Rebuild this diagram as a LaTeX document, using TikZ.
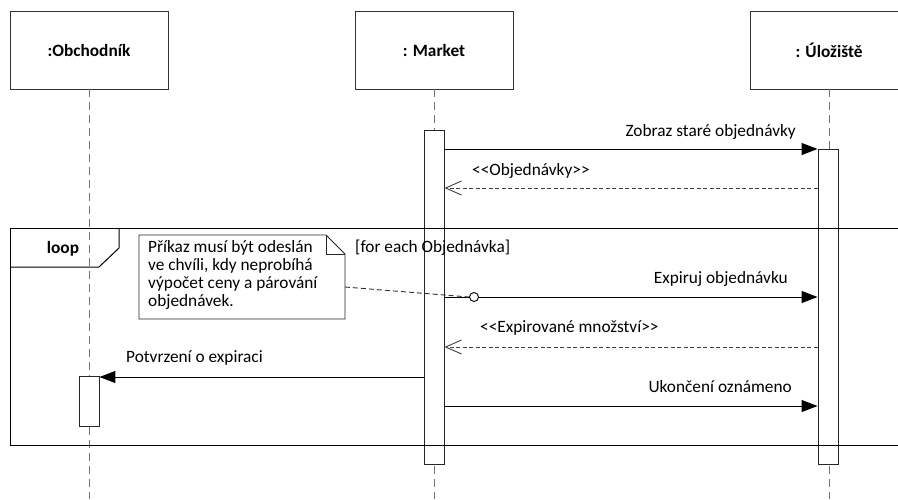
\documentclass[tikz,border=0pt]{standalone}
\usepackage{fontspec}
\setmainfont{Carlito}
\usetikzlibrary{arrows.meta}
\begin{document}
\begin{tikzpicture}[x=1pt,y=-1pt,
  every node/.style={inner sep=0pt},
  lbl/.style={font=\fontsize{17.3}{18}\selectfont},
  head/.style={draw=black!80, line width=0.9pt, fill=white, minimum width=158pt, minimum height=78pt, font=\fontsize{17.3}{18}\selectfont\bfseries},
  lifeline/.style={draw=black!55, line width=1pt, dash pattern=on 8pt off 5pt},
  framebox/.style={draw=black, line width=1pt},
  actbar/.style={draw=black!85, line width=0.9pt, fill=white, minimum width=20pt},
  callmsg/.style={draw=black, line width=1pt, -{Triangle[length=16pt,width=12pt]}},
  retmsg/.style={draw=black!75, line width=0.9pt, dash pattern=on 4pt off 2.5pt, -{Straight Barb[length=16pt,width=14pt]}},
  notelink/.style={draw=black!80, line width=0.9pt, dash pattern=on 5pt off 3pt},
]
\clip (0,0) rectangle (898,499);
\fill[white] (0,0) rectangle (898,499);

% heads
\node[head] (hO) at (89,50) {:Obchodník};
\node[head] (hM) at (434,50) {: Market};
\node[head] (hU) at (829,50) {: Úložiště};

% lifelines
\draw[lifeline] (hO.south) -- (hO.south |- 0,499);
\draw[lifeline] (hM.south) -- (hM.south |- 0,499);
\draw[lifeline] (hU.south) -- (hU.south |- 0,499);

% activation bars
\node[actbar, minimum height=334pt] (aM) at (434,297) {};
\node[actbar, minimum height=315pt] (aU) at (828,306.5) {};
\node[actbar, minimum height=50pt] (aO) at (89,401) {};

% loop frame
\draw[framebox] (10,228) rectangle (910,445);
\draw[framebox] (10,267) -- (99,267) -- (119,248) -- (119,228);
\node[lbl, font=\fontsize{17.3}{18}\selectfont\bfseries, anchor=base] (loopl) at (63,253) {loop};
\node[lbl, anchor=base west] (guard) at (355,252) {[for each Objednávka]};

% messages
\draw[callmsg] (aM.east |- 0,149) -- (aU.west |- 0,149);
\node[lbl, anchor=base east] (m1) at (796,136) {Zobraz staré objednávky};
\draw[retmsg] (aU.west |- 0,188) -- (aM.east |- 0,188);
\node[lbl, anchor=base west] (m2) at (472,175) {<{}<Objednávky>{}>};
\draw[callmsg] (aM.east |- 0,297) -- (aU.west |- 0,297);
\node[lbl, anchor=base east] (m3) at (788,283) {Expiruj objednávku};
\draw[retmsg] (aU.west |- 0,347) -- (aM.east |- 0,347);
\node[lbl, anchor=base west] (m4) at (480,332) {<{}<Expirované množství>{}>};
\draw[callmsg] (aM.west |- 0,377) -- (aO.east |- 0,377);
\node[lbl, anchor=base west] (m5) at (126,362) {Potvrzení o expiraci};
\draw[callmsg] (aM.east |- 0,406) -- (aU.west |- 0,406);
\node[lbl, anchor=base east] (m6) at (792,392) {Ukončení oznámeno};

% note
\draw[draw=black!85, line width=0.9pt, fill=white] (139,235) -- (326,235) -- (345,254) -- (345,319) -- (139,319) -- cycle;
\draw[draw=black!85, line width=0.9pt] (326,235) -- (326,254) -- (345,254);
\node[lbl, align=left, anchor=north west] (note) at (148,240.5) {Příkaz musí být odeslán\\ve chvíli, kdy neprobíhá\\výpočet ceny a párování\\objednávek.};
\coordinate (noteR) at (345,287);
\node[circle, draw=black, line width=0.9pt, fill=white, minimum size=9pt] (cir) at (474,297) {};
\draw[notelink] (noteR) -- (cir.west);
\end{tikzpicture}
\end{document}
